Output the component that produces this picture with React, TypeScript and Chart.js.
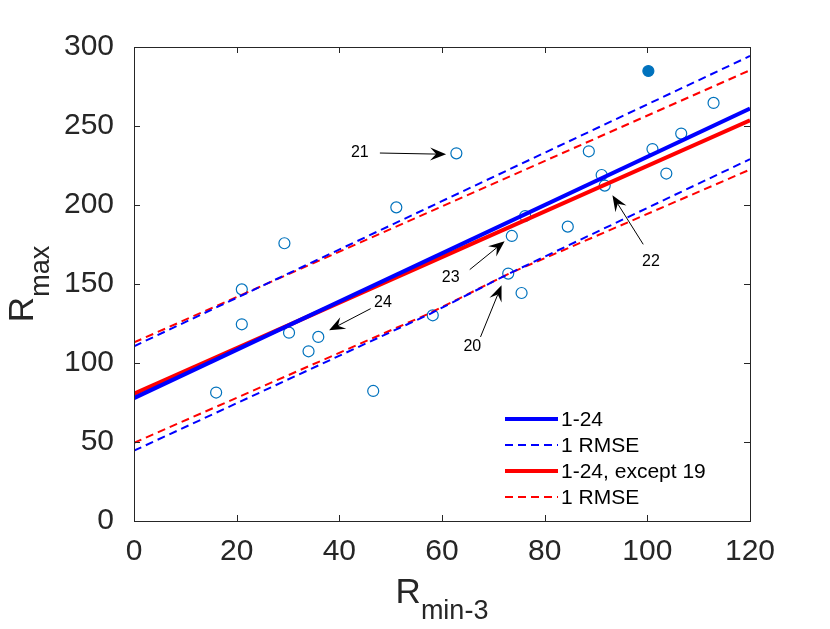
import { useEffect, useRef } from 'react';
import { Chart, registerables } from 'chart.js';

Chart.register(...registerables);

// measured points (R_min-3, R_max), 1-24 without 19
const rMin = [16.0, 21.0, 21.0, 29.3, 30.2, 34.0, 35.9, 46.6, 51.1, 58.2, 62.8, 73.6, 72.9, 75.5, 76.2, 84.5, 88.6, 91.1, 91.7, 101.0, 103.7, 106.6, 112.9];
const rMax = [81.3, 146.6, 124.5, 175.8, 119.2, 107.4, 116.5, 82.3, 198.5, 130.2, 232.7, 180.4, 156.6, 144.3, 193.0, 186.3, 234.0, 219.0, 212.3, 235.4, 219.9, 245.2, 264.6];
// point 19
const outlierX = [100.2];
const outlierY = [284.8];

// fit lines
const fitX = [0, 120];
const fitAll = [77.8, 261.0];
const fitExcept19 = [80.5, 253.6];
const upperAll = [110.6, 294.3];
const upperExcept19 = [113.0, 285.3];
const lowerX = [0, 57.6, 73, 120];
const lowerAll = [44.5, 131.0, 156.5, 229.0];
const lowerExcept19 = [49.5, 131.5, 156.5, 222.4];

const xTicks = [0, 20, 40, 60, 80, 100, 120];
const yTicks = [0, 50, 100, 150, 200, 250, 300];

// arrow annotations: label, label pos, tail, head (data units)
const arrowLabels = ['21', '24', '23', '22', '20'];
const labelPos = [[44.0, 232.9], [48.5, 138.2], [61.7, 154.0], [100.7, 164.4], [65.9, 110.1]];
const arrowTail = [[47.9, 232.9], [46.1, 134.4], [65.4, 159.1], [99.2, 175.1], [67.5, 116.5]];
const arrowHead = [[60.8, 232.1], [38.0, 120.7], [72.2, 177.0], [93.2, 206.1], [71.6, 149.2]];

const legendItems = [
  { text: '1-24', color: '#0000ff', dash: false },
  { text: '1 RMSE', color: '#0000ff', dash: true },
  { text: '1-24, except 19', color: '#ff0000', dash: false },
  { text: '1 RMSE', color: '#ff0000', dash: true },
];

const FONT = '"Liberation Sans", Arial, Helvetica, sans-serif';
const AXIS = '#262626';
const MARK = '#0072bd';

const pts = (xs: number[], ys: number[]) => xs.map((x, i) => ({ x, y: ys[i] }));

const overlay = {
  id: 'overlay',
  afterDatasetsDraw(chart: any) {
    const { ctx, chartArea: a, scales } = chart;
    const sx = scales.x;
    const sy = scales.y;
    ctx.save();

    // box and inward ticks
    ctx.strokeStyle = AXIS;
    ctx.lineWidth = 1;
    ctx.setLineDash([]);
    ctx.strokeRect(a.left + 0.5, a.top + 0.5, a.right - a.left, a.bottom - a.top);
    ctx.beginPath();
    xTicks.forEach((t) => {
      const px = Math.round(sx.getPixelForValue(t)) + 0.5;
      ctx.moveTo(px, a.bottom);
      ctx.lineTo(px, a.bottom - 6);
      ctx.moveTo(px, a.top);
      ctx.lineTo(px, a.top + 6);
    });
    yTicks.forEach((t) => {
      const py = Math.round(sy.getPixelForValue(t)) + 0.5;
      ctx.moveTo(a.left, py);
      ctx.lineTo(a.left + 6, py);
      ctx.moveTo(a.right, py);
      ctx.lineTo(a.right - 6, py);
    });
    ctx.stroke();

    // arrows
    ctx.fillStyle = '#000';
    ctx.strokeStyle = '#000';
    ctx.font = `16px ${FONT}`;
    ctx.textAlign = 'center';
    ctx.textBaseline = 'middle';
    arrowLabels.forEach((lab, i) => {
      const tx = sx.getPixelForValue(arrowTail[i][0]);
      const ty = sy.getPixelForValue(arrowTail[i][1]);
      const hx = sx.getPixelForValue(arrowHead[i][0]);
      const hy = sy.getPixelForValue(arrowHead[i][1]);
      const ang = Math.atan2(hy - ty, hx - tx);
      const L = 16;
      const W = 6.5;
      const N = 10;
      const cos = Math.cos(ang);
      const sin = Math.sin(ang);
      ctx.lineWidth = 1;
      ctx.beginPath();
      ctx.moveTo(tx, ty);
      ctx.lineTo(hx - N * cos, hy - N * sin);
      ctx.stroke();
      ctx.beginPath();
      ctx.moveTo(hx, hy);
      ctx.lineTo(hx - L * cos - W * sin, hy - L * sin + W * cos);
      ctx.lineTo(hx - N * cos, hy - N * sin);
      ctx.lineTo(hx - L * cos + W * sin, hy - L * sin - W * cos);
      ctx.closePath();
      ctx.fill();
      ctx.fillText(lab, sx.getPixelForValue(labelPos[i][0]), sy.getPixelForValue(labelPos[i][1]));
    });

    // legend
    ctx.font = `21px ${FONT}`;
    ctx.textAlign = 'left';
    legendItems.forEach((it, i) => {
      const y = a.bottom - 102 + i * 26;
      const x0 = a.right - 245;
      ctx.strokeStyle = it.color;
      ctx.lineWidth = it.dash ? 2 : 4;
      ctx.setLineDash(it.dash ? [8, 5] : []);
      ctx.beginPath();
      ctx.moveTo(x0, y);
      ctx.lineTo(x0 + 53, y);
      ctx.stroke();
      ctx.setLineDash([]);
      ctx.fillStyle = '#000';
      ctx.fillText(it.text, x0 + 56, y + 1);
    });

    // axis titles with subscripts
    ctx.fillStyle = AXIS;
    ctx.textBaseline = 'alphabetic';
    const big = `35px ${FONT}`;
    const small = `27px ${FONT}`;
    ctx.font = big;
    const rw = ctx.measureText('R').width;
    ctx.font = small;
    const xsub = ctx.measureText('min-3').width;
    const ysub = ctx.measureText('max').width;

    const cx = (a.left + a.right) / 2;
    const x = cx - (rw + xsub) / 2;
    ctx.font = big;
    ctx.fillText('R', x, a.bottom + 82);
    ctx.font = small;
    ctx.fillText('min-3', x + rw, a.bottom + 98);

    const cy = (a.top + a.bottom) / 2;
    ctx.translate(33, cy + (rw + ysub) / 2);
    ctx.rotate(-Math.PI / 2);
    ctx.font = big;
    ctx.fillText('R', 0, 0);
    ctx.font = small;
    ctx.fillText('max', rw, 16);
    ctx.restore();
  },
};

export default function App() {
  const canvasRef = useRef<HTMLCanvasElement>(null);
  const chartRef = useRef<Chart | null>(null);

  useEffect(() => {
    document.body.style.margin = '0';
    if (!canvasRef.current) return;
    if (chartRef.current) chartRef.current.destroy();
    const ctx = canvasRef.current.getContext('2d');
    if (!ctx) return;

    const line = (data: any, color: string, dashed: boolean) => ({
      type: 'line' as const,
      data,
      borderColor: color,
      borderWidth: dashed ? 2 : 4,
      borderDash: dashed ? [8, 5] : [],
      pointRadius: 0,
      fill: false,
      showLine: true,
      tension: 0,
    });

    chartRef.current = new Chart(ctx, {
      type: 'scatter',
      data: {
        datasets: [
          line(pts(fitX, upperAll), '#0000ff', true),
          line(pts(lowerX, lowerAll), '#0000ff', true),
          line(pts(fitX, upperExcept19), '#ff0000', true),
          line(pts(lowerX, lowerExcept19), '#ff0000', true),
          line(pts(fitX, fitAll), '#0000ff', false),
          line(pts(fitX, fitExcept19), '#ff0000', false),
          {
            type: 'scatter',
            data: pts(rMin, rMax),
            pointRadius: 5.5,
            pointBorderWidth: 1.2,
            pointBorderColor: MARK,
            pointBackgroundColor: 'rgba(0,0,0,0)',
          },
          {
            type: 'scatter',
            data: pts(outlierX, outlierY),
            pointRadius: 5.5,
            pointBorderWidth: 1.2,
            pointBorderColor: MARK,
            pointBackgroundColor: MARK,
          },
        ] as any,
      },
      options: {
        animation: false,
        responsive: true,
        maintainAspectRatio: false,
        layout: { padding: { top: 47, right: 80, left: 0, bottom: 0 } },
        plugins: { legend: { display: false }, tooltip: { enabled: false } },
        scales: {
          x: {
            type: 'linear',
            min: 0,
            max: 120,
            grid: { display: false, drawTicks: false },
            border: { display: false },
            ticks: { stepSize: 20, padding: 13, color: AXIS, font: { family: FONT, size: 30 } },
            afterFit: (s: any) => { s.height = 108; },
          },
          y: {
            type: 'linear',
            min: 0,
            max: 300,
            grid: { display: false, drawTicks: false },
            border: { display: false },
            ticks: { stepSize: 50, padding: 20, color: AXIS, font: { family: FONT, size: 30 } },
            afterFit: (s: any) => { s.width = 134; },
          },
        },
      },
      plugins: [overlay],
    });

    return () => {
      if (chartRef.current) {
        chartRef.current.destroy();
        chartRef.current = null;
      }
    };
  }, []);

  return (
    <div style={{ width: 830, height: 629, position: 'relative', background: '#fff' }}>
      <canvas ref={canvasRef}></canvas>
    </div>
  );
}
